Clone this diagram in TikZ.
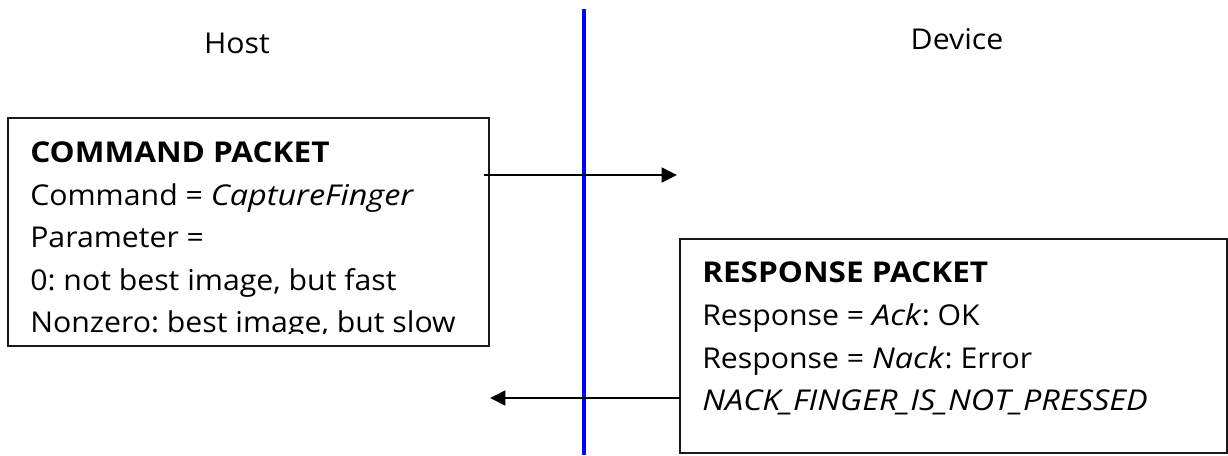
\documentclass[tikz,border=0pt]{standalone}
\usepackage{fontspec}
\setmainfont{Open Sans}[FakeStretch=1.055, ItalicFeatures={FakeStretch=1.13}, BoldFeatures={FakeStretch=1.10}]
\usetikzlibrary{arrows.meta}
\frenchspacing
\begin{document}
\begin{tikzpicture}[x=0.75pt,y=-0.75pt,
  box/.style={draw=black!90, line width=1.5pt, inner sep=0pt, fill=white},
  txt/.style={anchor=base west, inner sep=0pt, font=\fontsize{21.5}{26}\selectfont},
  lbl/.style={anchor=base, inner sep=0pt, font=\fontsize{21.5}{26}\selectfont},
  arr/.style={line width=2pt, -{Triangle[length=11.5pt,width=11pt]}},
  lifeline/.style={draw=blue, line width=3.2pt}]
\useasboundingbox[fill=white] (0,0) rectangle (1228,455);
% boxes
\node[box, minimum width=360.75pt, minimum height=171pt] (cmd) at (248.5,232) {};
\node[box, minimum width=410.25pt, minimum height=160.5pt] (resp) at (953.5,346) {};
% headings
\node[lbl] (host) at (237,53) {Host};
\node[lbl] (dev) at (957,49) {Device};
% lifeline
\coordinate (lt) at (584,9);
\coordinate (lb) at (584,455);
\draw[lifeline] (lt) -- (lb);
% command text
\node[txt] (c1) at (30,162) {\textbf{COMMAND PACKET}};
\node[txt] (c2) at (30,205) {Command = \textit{CaptureFinger}};
\node[txt] (c3) at (30,247) {Parameter =};
\node[txt] (c4) at (30,290) {0: not best image, but fast};
\begin{scope}
\clip (10,300) rectangle (487,333);
\node[txt] (c5) at (30,332) {Nonzero: best image, but slow};
\end{scope}
% response text
\node[txt] (r1) at (702,282) {\textbf{RESPONSE PACKET}};
\node[txt] (r2) at (702,325) {Response = \textit{Ack}: OK};
\node[txt] (r3) at (702,368) {Response = \textit{Nack}: Error};
\node[txt] (r4) at (702,410) {\textit{NACK\_FINGER\_IS\_NOT\_PRESSED}};
% arrows
\coordinate (a1s) at (484,175);
\coordinate (a1e) at (677,175);
\coordinate (a2s) at (680,398);
\coordinate (a2e) at (490,398);
\draw[arr] (a1s) -- (a1e);
\draw[arr] (a2s) -- (a2e);
\end{tikzpicture}
\end{document}
